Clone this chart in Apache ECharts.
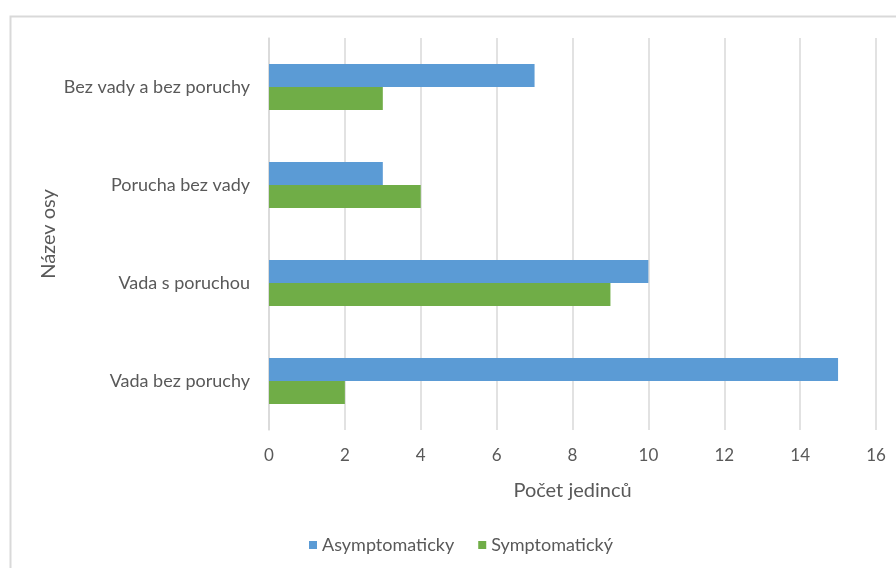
<!DOCTYPE html>
<html>
<head>
<meta charset="utf-8">
<script src="https://cdn.jsdelivr.net/npm/echarts@6/dist/echarts.min.js"></script>
<style>
  html, body { margin: 0; padding: 0; background: #fff; }
  #chart { width: 896px; height: 568px; }
</style>
</head>
<body>
<div id="chart"></div>
<script>
// Categories listed bottom to top, as the category axis draws them
var categories = ['Vada bez poruchy', 'Vada s poruchou', 'Porucha bez vady', 'Bez vady a bez poruchy'];
var asymptomaticky = [15, 10, 3, 7];
var symptomaticky = [2, 9, 4, 3];
var seriesNames = ['Asymptomaticky', 'Symptomatický'];

var textColor = '#595959';
var gridColor = '#D9D9D9';
var fontFamily = 'Lato, "Open Sans", sans-serif';

var chart = echarts.init(document.getElementById('chart'), null, { renderer: 'canvas' });

chart.setOption({
  backgroundColor: '#ffffff',
  animation: false,
  textStyle: { fontFamily: fontFamily, color: textColor },
  graphic: [{
    type: 'rect',
    left: 8,
    top: 14,
    shape: { width: 900, height: 600 },
    style: { fill: 'none', stroke: gridColor, lineWidth: 2 },
    silent: true,
    z: -1
  }],
  grid: { left: 269, right: 20, top: 38, bottom: 138 },
  legend: {
    data: seriesNames,
    bottom: 9,
    left: 304,
    itemWidth: 8,
    itemHeight: 8,
    itemGap: 24,
    icon: 'rect',
    textStyle: { fontSize: 18, color: textColor, fontFamily: fontFamily, padding: [0, 0, 0, 0] }
  },
  xAxis: {
    type: 'value',
    min: 0,
    max: 16,
    interval: 2,
    name: 'Počet jedinců',
    nameLocation: 'middle',
    nameGap: 51,
    nameMoveOverlap: false,
    nameTextStyle: { fontSize: 20, color: textColor, fontFamily: fontFamily },
    axisLine: { show: false },
    axisTick: { show: false },
    axisLabel: { fontSize: 17, color: textColor, margin: 17, fontFamily: fontFamily },
    splitLine: { show: true, lineStyle: { color: gridColor, width: 1.5 } }
  },
  yAxis: {
    type: 'category',
    data: categories,
    name: 'Název osy',
    nameLocation: 'middle',
    nameGap: 210,
    nameMoveOverlap: false,
    nameRotate: 90,
    nameTextStyle: { fontSize: 20, color: textColor, fontFamily: fontFamily },
    axisLine: { show: true, lineStyle: { color: gridColor, width: 1.5 } },
    axisTick: { show: false },
    axisLabel: { fontSize: 18, color: textColor, margin: 19, fontFamily: fontFamily },
    splitLine: { show: false }
  },
  series: [
    {
      name: seriesNames[0],
      type: 'bar',
      data: asymptomaticky,
      itemStyle: { color: '#5B9BD5' },
      barGap: '0%',
      barCategoryGap: '53%'
    },
    {
      name: seriesNames[1],
      type: 'bar',
      data: symptomaticky,
      itemStyle: { color: '#70AD47' },
      barGap: '0%',
      barCategoryGap: '53%'
    }
  ]
});
</script>
</body>
</html>
